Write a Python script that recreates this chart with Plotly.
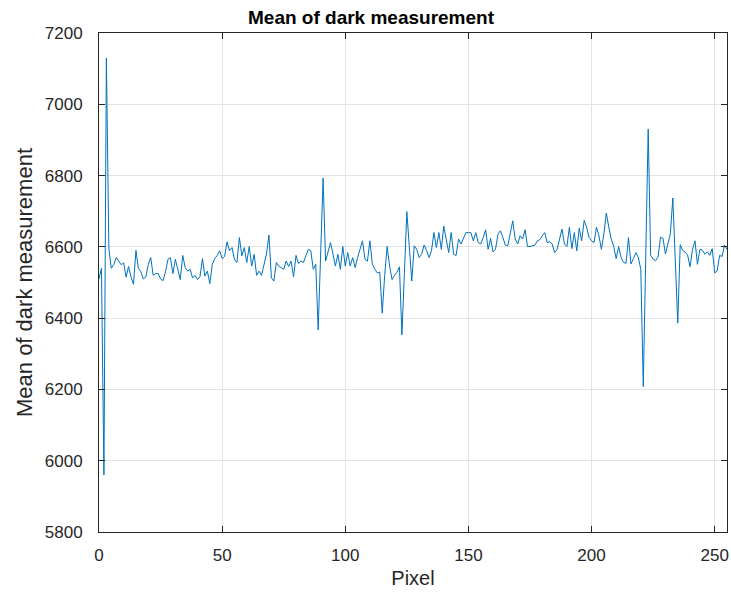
import plotly.graph_objects as go

# Pixel index 0..255
pixel = list(range(0, 256))

mean_dark = [
    # 0-30
    6510, 6540, 5960, 7130, 6595, 6540, 6550, 6570, 6560, 6550,
    6555, 6515, 6545, 6515, 6495, 6590, 6540, 6530, 6510, 6515,
    6550, 6570, 6520, 6525, 6525, 6510, 6505, 6530, 6565, 6570,
    6525,
    # 31-65
    6565, 6537, 6508, 6576, 6542, 6532, 6537, 6513, 6520, 6508,
    6516, 6567, 6518, 6532, 6497, 6551, 6567, 6576, 6589, 6567,
    6573, 6614, 6589, 6598, 6565, 6556, 6626, 6575, 6598, 6556,
    6601, 6546, 6579, 6520, 6532,
    # 66-97
    6520, 6550, 6580, 6633, 6513, 6504, 6556, 6546, 6542, 6537,
    6560, 6545, 6560, 6516, 6576, 6553, 6560, 6556, 6575, 6593,
    6589, 6537, 6551, 6367, 6580, 6793, 6560, 6585, 6612, 6580,
    6546, 6579,
    # 98-129
    6537, 6601, 6546, 6584, 6546, 6570, 6542, 6570, 6593, 6617,
    6565, 6560, 6617, 6551, 6537, 6527, 6529, 6414, 6520, 6601,
    6546, 6508, 6520, 6529, 6544, 6353, 6525, 6699, 6600, 6504,
    6603, 6593,
    # 130-162
    6570, 6579, 6605, 6590, 6570, 6589, 6640, 6598, 6640, 6593,
    6658, 6617, 6584, 6640, 6579, 6576, 6622, 6608, 6622, 6640,
    6640, 6640, 6617, 6640, 6612, 6608, 6626, 6648, 6593, 6624,
    6586, 6593, 6636,
    # 163-194
    6645, 6626, 6605, 6603, 6640, 6673, 6622, 6608, 6631, 6622,
    6648, 6601, 6601, 6603, 6605, 6617, 6620, 6631, 6640, 6612,
    6614, 6608, 6584, 6593, 6622, 6650, 6608, 6601, 6655, 6595,
    6640, 6589,
    # 195-223
    6652, 6617, 6674, 6655, 6626, 6617, 6612, 6655, 6631, 6593,
    6636, 6695, 6655, 6622, 6601, 6567, 6601, 6570, 6556, 6554,
    6626, 6552, 6567, 6584, 6570, 6537, 6208, 6570, 6930,
    # 224-239
    6576, 6566, 6561, 6571, 6627, 6624, 6580, 6608, 6637, 6737,
    6545, 6386, 6606, 6590, 6585, 6577,
    # 240-255
    6544, 6593, 6617, 6551, 6593, 6591, 6579, 6586, 6576, 6595,
    6527, 6532, 6576, 6573, 6605, 6593,
]

x_ticks = [0, 50, 100, 150, 200, 250]
y_ticks = [5800, 6000, 6200, 6400, 6600, 6800, 7000, 7200]

FONT = "Liberation Sans, Arial, Helvetica, sans-serif"

fig = go.Figure()
fig.add_trace(go.Scatter(
    x=pixel, y=mean_dark, mode="lines",
    line=dict(color="#0072BD", width=1),
    showlegend=False,
))

axis_common = dict(
    showline=True, linecolor="#262626", linewidth=1, mirror="ticks",
    ticks="inside", ticklen=6, tickcolor="#262626",
    showgrid=True, gridcolor="#e3e3e3", gridwidth=1,
    zeroline=False,
    tickfont=dict(family=FONT, size=17, color="#262626"),
)

fig.update_xaxes(range=[0, 255], tickvals=x_ticks, ticklabelstandoff=8,
                 title_text="Pixel", title_standoff=6,
                 title_font=dict(family=FONT, size=20, color="#262626"),
                 **axis_common)
fig.update_yaxes(range=[5800, 7200], tickvals=y_ticks, ticklabelstandoff=12,
                 title_text="Mean of dark measurement", title_standoff=6,
                 title_font=dict(family=FONT, size=22, color="#262626"),
                 **axis_common)

fig.update_layout(
    width=731, height=592,
    margin=dict(l=99, r=2, t=33, b=60),
    paper_bgcolor="white", plot_bgcolor="white",
    title=dict(text="<b>Mean of dark measurement</b>", x=371/731, xanchor="center",
               xref="container", y=1 - 17/592, yanchor="middle",
               font=dict(family=FONT, size=19, color="#000000")),
)

fig.write_html("out.html")
